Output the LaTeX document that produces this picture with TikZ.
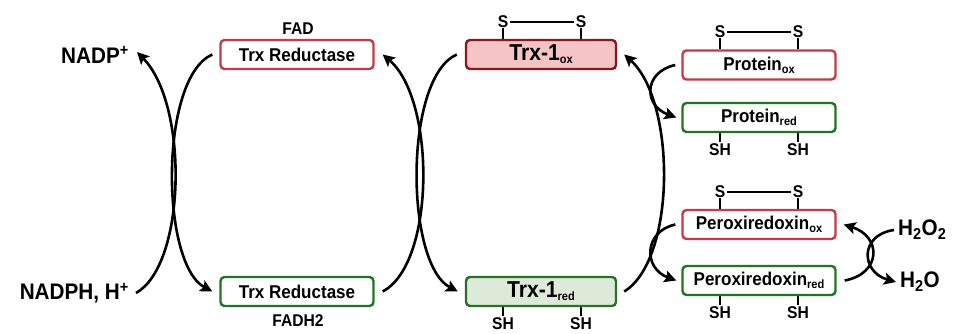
\documentclass[tikz,border=0pt]{standalone}
\usepackage{fontspec}
\setmainfont{Liberation Sans}[FakeStretch=0.92]
\usetikzlibrary{arrows.meta}
\definecolor{redb}{RGB}{196,58,70}
\definecolor{greenb}{RGB}{30,118,34}
\definecolor{trxoxb}{RGB}{140,22,28}
\definecolor{trxoxf}{RGB}{245,196,196}
\definecolor{trxredb}{RGB}{42,112,42}
\definecolor{trxredf}{RGB}{221,234,215}
\newcommand\lowsub[1]{\raisebox{-3pt}{\fontsize{12}{12}\selectfont #1}}
\begin{document}
\begin{tikzpicture}[x=1pt,y=-1pt,
  box/.style={draw, rounded corners=4pt, line width=2.4pt, minimum width=153pt, minimum height=29pt, inner sep=0pt, font=\fontsize{18.5}{18.5}\selectfont\bfseries},
  oxbox/.style={box, draw=redb, fill=white},
  redbox/.style={box, draw=greenb, fill=white},
  lbl/.style={font=\fontsize{17}{17}\selectfont\bfseries, inner sep=0pt},
  big/.style={font=\fontsize{22.5}{22.5}\selectfont\bfseries, inner sep=0pt},
  conn/.style={line width=2.6pt, -{Stealth[length=12pt,width=12pt,inset=2.5pt]}},
  tick/.style={line width=1.6pt}]
\useasboundingbox (0,0) rectangle (961,333);

% Trx reductase
\node[oxbox] (trrox) at (297,54.5) {Trx Reductase};
\node[redbox] (trrred) at (297,291.5) {Trx Reductase};
\node[lbl] (fad) at (298,29) {FAD};
\node[lbl] (fadh) at (298,321) {FADH2};
\node[big, anchor=east] (nadp) at (129,55) {NADP\textsuperscript{+}};
\node[big, anchor=east] (nadph) at (129,293) {NADPH, H\textsuperscript{+}};

% Trx-1
\node[box, draw=trxoxb, fill=trxoxf, minimum width=150pt, font=\fontsize{23}{23}\selectfont\bfseries] (trxox) at (541,54.5) {Trx-1\lowsub{ox}};
\node[box, draw=trxredb, fill=trxredf, minimum width=150pt, font=\fontsize{23}{23}\selectfont\bfseries] (trxred) at (541,291.5) {Trx-1\lowsub{red}};

% Proteins
\node[oxbox] (protox) at (759,65) {Protein\lowsub{ox}};
\node[redbox] (protred) at (759,117.5) {Protein\lowsub{red}};
\node[oxbox] (prxox) at (759,224.5) {Peroxiredoxin\lowsub{ox}};
\node[redbox] (prxred) at (759,280.5) {Peroxiredoxin\lowsub{red}};

\node[big, anchor=west] (hoo) at (898,230) {H\textsubscript{2}O\textsubscript{2}};
\node[big, anchor=west] (ho) at (900,282) {H\textsubscript{2}O};

% disulfides
\node[lbl] (ta) at (503,22) {S};
\node[lbl] (tb) at (581,22) {S};
\draw[tick] ([xshift=1.5pt]ta.east) -- ([xshift=-1.5pt]tb.west);
\draw[tick] (ta.south) -- (ta.south |- trxox.north);
\draw[tick] (tb.south) -- (tb.south |- trxox.north);

\node[lbl] (pa) at (720,32) {S};
\node[lbl] (pb) at (798,32) {S};
\draw[tick] ([xshift=1.5pt]pa.east) -- ([xshift=-1.5pt]pb.west);
\draw[tick] (pa.south) -- (pa.south |- protox.north);
\draw[tick] (pb.south) -- (pb.south |- protox.north);

\node[lbl] (xa) at (720,192) {S};
\node[lbl] (xb) at (798,192) {S};
\draw[tick] ([xshift=1.5pt]xa.east) -- ([xshift=-1.5pt]xb.west);
\draw[tick] (xa.south) -- (xa.south |- prxox.north);
\draw[tick] (xb.south) -- (xb.south |- prxox.north);

% thiols
\node[lbl] (tc) at (503,324) {SH};
\node[lbl] (td) at (581,324) {SH};
\draw[tick] ([yshift=2pt]tc.north) -- (tc.north |- trxred.south);
\draw[tick] ([yshift=2pt]td.north) -- (td.north |- trxred.south);

\node[lbl] (pc) at (720,150) {SH};
\node[lbl] (pd) at (798,150) {SH};
\draw[tick] ([yshift=2pt]pc.north) -- (pc.north |- protred.south);
\draw[tick] ([yshift=2pt]pd.north) -- (pd.north |- protred.south);

\node[lbl] (xc) at (720,313) {SH};
\node[lbl] (xd) at (798,313) {SH};
\draw[tick] ([yshift=2pt]xc.north) -- (xc.north |- prxred.south);
\draw[tick] ([yshift=2pt]xd.north) -- (xd.north |- prxred.south);

% connectors
\draw[conn] ([xshift=7pt]nadph.east) .. controls +(50,-28) and +(52,53) .. ([xshift=8pt,yshift=3pt]nadp.east);
\draw[conn] ([xshift=-7pt]trrox.west) .. controls +(-53,23) and +(-52,-28) .. ([xshift=-7pt]trrred.west);
\draw[conn] ([xshift=8pt]trrred.east) .. controls +(53,-28) and +(53,45) .. ([xshift=8pt]trrox.east);
\draw[conn] ([xshift=-8pt]trxox.west) .. controls +(-53,23) and +(-53,-28) .. ([xshift=-7pt]trxred.west);
\draw[conn] ([xshift=7pt]trxred.east) .. controls +(52,-32) and +(52,47) .. ([xshift=7pt]trxox.east);
\draw[conn] ([xshift=-6pt]protox.west) .. controls +(-32,7) and +(-33,-12) .. ([xshift=-5pt]protred.west);
\draw[conn] ([xshift=-6pt]prxox.west) .. controls +(-32,7) and +(-33,-12) .. ([xshift=-5pt]prxred.west);
\draw[conn] ([xshift=8pt]prxred.east) .. controls +(37,-7) and +(38,12) .. ([xshift=7pt]prxox.east);
\draw[conn] ([xshift=-4pt]hoo.west) .. controls +(-35,5) and +(-35,-10) .. ([xshift=-4pt]ho.west);
\end{tikzpicture}
\end{document}
